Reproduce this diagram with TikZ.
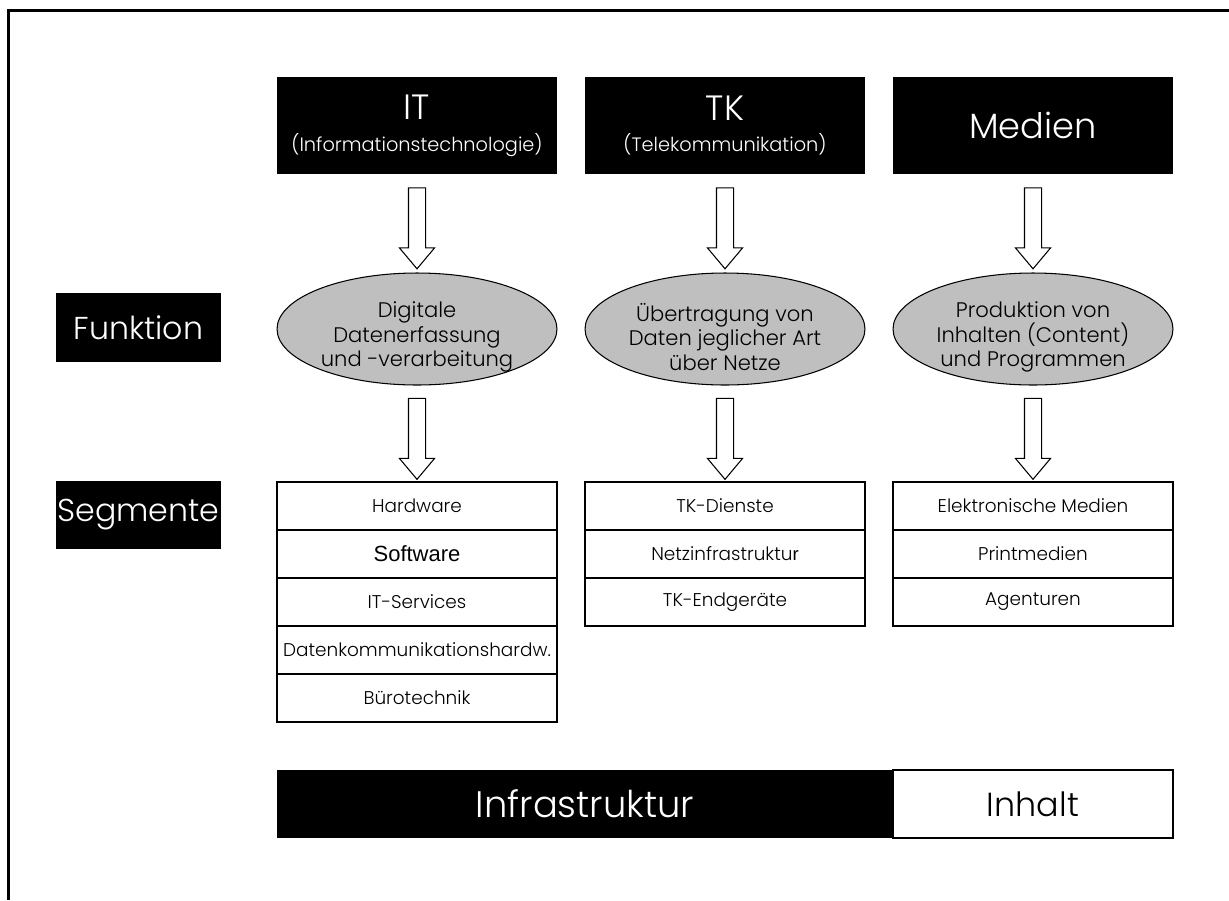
\documentclass[tikz,border=0pt]{standalone}
\usepackage{fontspec}
\setmainfont{Poppins}[UprightFont=* Light]
\newfontfamily\arialfont{Liberation Sans}
\usetikzlibrary{positioning,shapes.geometric,shapes.arrows,calc}

\begin{document}
\begin{tikzpicture}[x=0.02cm,y=-0.02cm,
    headbox/.style={fill=black,text=white,minimum width=5.6cm,minimum height=1.94cm,inner sep=0pt,outer sep=0pt,align=center},
    sidebox/.style={fill=black,text=white,minimum width=3.3cm,minimum height=1.37cm,inner sep=0pt,font=\fontsize{18}{22}\selectfont},
    funcell/.style={ellipse,draw,line width=0.6pt,fill=black!25,minimum width=5.6cm,minimum height=2.24cm,inner sep=0pt},
    funtext/.style={align=center,inner sep=0pt,font=\fontsize{12}{14}\selectfont},
    segrow/.style={draw,line width=0.9pt,minimum width=5.6cm,minimum height=0.96cm,inner sep=0pt,outer sep=0pt,font=\fontsize{10.5}{12}\selectfont},
    hollow/.style={single arrow,draw,line width=0.6pt,fill=white,rotate=-90,minimum height=1.62cm,
        inner xsep=0pt,inner ysep=0.16cm,single arrow head extend=0.18cm,single arrow tip angle=80},
    big/.style={font=\fontsize{19}{22}\selectfont}
]
    \useasboundingbox (0,0) rectangle (1229,900);

    % frame
    \draw[line width=1.2pt] (8.5,900) -- (8.5,10.5) -- (1229,10.5);

    % Sectors
    \node[headbox] (it) at (417,125.5) {{\fontsize{20}{20}\selectfont IT}\\[6pt]{\fontsize{11}{13}\selectfont (Informationstechnologie)}};
    \node[headbox] (tk) at (725,125.5) {{\fontsize{20}{20}\selectfont TK}\\[6pt]{\fontsize{11}{13}\selectfont (Telekommunikation)}};
    \node[headbox] (med) at (1033,125.5) {{\fontsize{20}{20}\selectfont Medien}};

    % Row labels
    \node[sidebox] (funktion) at (138.5,327.5) {Funktion};
    \node[sidebox] (segmente) at (138.5,515) {Segmente};

    % Functions
    \node[funcell] (itfun) at (417,329) {};
    \node[funtext] (itfuntext) at ([yshift=-0.16cm]itfun.center) {Digitale\\Datenerfassung\\und -verarbeitung};
    \node[funcell] (tkfun) at (725,329) {};
    \node[funtext] (tkfuntext) at ([yshift=-0.16cm]tkfun.center) {Übertragung von\\Daten jeglicher Art\\über Netze};
    \node[funcell] (medfun) at (1033,329) {};
    \node[funtext] (medfuntext) at ([yshift=-0.16cm]medfun.center) {Produktion von\\Inhalten (Content)\\und Programmen};

    % Segments IT
    \node[segrow] (hw) at (417,506) {Hardware};
    \node[segrow,below=0pt of hw] (sw) {\arialfont\fontsize{12.5}{14}\selectfont Software};
    \node[segrow,below=0pt of sw] (itsrv) {IT-Services};
    \node[segrow,below=0pt of itsrv] (dkh) {Datenkommunikationshardw.};
    \node[segrow,below=0pt of dkh] (buero) {Bürotechnik};

    % Segments TK
    \node[segrow] (tkdienst) at (725,506) {TK-Dienste};
    \node[segrow,below=0pt of tkdienst] (netz) {Netzinfrastruktu{\arialfont r}};
    \node[segrow,below=0pt of netz] (tkgeraet) {TK-Endgeräte};

    % Segments Medien
    \node[segrow] (elmed) at (1033,506) {Elektronische Medien};
    \node[segrow,below=0pt of elmed] (print) {Printmedien};
    \node[segrow,below=0pt of print] (agent) {Agenturen};

    % Arrows
    \node[hollow] (a1) at ($(it.south)!0.5!(itfun.north)$) {};
    \node[hollow] (a2) at ($(tk.south)!0.5!(tkfun.north)$) {};
    \node[hollow] (a3) at ($(med.south)!0.5!(medfun.north)$) {};
    \node[hollow] (b1) at ($(itfun.south)!0.5!(hw.north)$) {};
    \node[hollow] (b2) at ($(tkfun.south)!0.5!(tkdienst.north)$) {};
    \node[hollow] (b3) at ($(medfun.south)!0.5!(elmed.north)$) {};

    % Infrastructure vs. content
    \node[fill=black,text=white,minimum width=12.32cm,minimum height=1.36cm,inner sep=0pt,outer sep=0pt,font=\fontsize{21}{24}\selectfont] (infra) at (585,804) {Infrastruktur};
    \node[draw,line width=0.9pt,minimum width=5.6cm,minimum height=1.36cm,inner sep=0pt,outer sep=0pt,big,right=0pt of infra] (inhalt) {Inhalt};
\end{tikzpicture}
\end{document}
